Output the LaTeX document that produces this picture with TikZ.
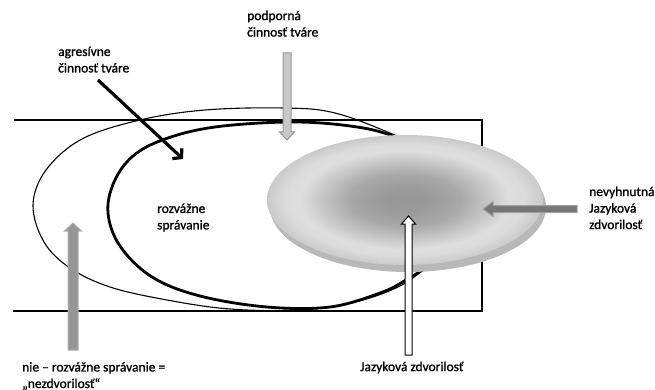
\documentclass[tikz,border=0pt]{standalone}
\usepackage{fontspec}
\setmainfont{Carlito}[FakeBold=1.2]
\usetikzlibrary{arrows.meta}
\pgfdeclareradialshading{discshade}{\pgfpoint{0bp}{0bp}}{%
  rgb(0bp)=(0.59,0.59,0.59);
  rgb(4bp)=(0.60,0.60,0.60);
  rgb(10bp)=(0.66,0.66,0.66);
  rgb(16bp)=(0.80,0.80,0.80);
  rgb(19bp)=(0.87,0.87,0.87);
  rgb(21.5bp)=(0.86,0.86,0.86);
  rgb(25bp)=(0.79,0.79,0.79);
  rgb(50bp)=(0.79,0.79,0.79)}
\definecolor{rimgray}{RGB}{184,184,184}
\definecolor{podfill}{RGB}{200,200,200}
\definecolor{podline}{RGB}{150,150,150}
\definecolor{leftfill}{RGB}{150,150,150}
\definecolor{leftline}{RGB}{175,175,175}
\definecolor{rightfill}{RGB}{118,118,118}
\definecolor{rightline}{RGB}{160,160,160}
\tikzset{
  lbl/.style={anchor=north west, inner sep=0pt, align=left,
    font=\fontsize{13.5}{16.5}\selectfont},
  frame/.style={draw=black, line width=1.1pt},
  thinell/.style={draw=black, line width=1.1pt},
  thickell/.style={draw=black, line width=2.8pt},
  podarrow/.style={draw=podline, fill=podfill, line width=1pt},
  leftarrow/.style={draw=leftline, fill=leftfill, line width=1pt},
  rightarrow/.style={draw=rightline, fill=rightfill, line width=1pt},
  centerarrow/.style={draw=black, fill=white, line width=1pt},
  blackarrow/.style={draw=black, line width=3.2pt,
    -{Straight Barb[length=6pt,width=14pt]}}
}
\begin{document}
\begin{tikzpicture}[x=1pt,y=-1pt]
\useasboundingbox (0,0) rectangle (655,390);

% open frame
\draw[frame] (14,120) -- (482,120) -- (482,311) -- (13,311);

% thin ellipse
\draw[thinell] plot[smooth cycle, tension=0.6] coordinates {
  (33,205) (46,170) (82,139) (140,120) (205,110) (283,108) (335,113)
  (397,136) (462,166) (492,205) (468,240) (434,262) (400,286)
  (355,302) (300,310) (230,309) (167,300) (110,287) (70,268) (44,242)};

% thick ellipse
\draw[thickell] plot[smooth cycle, tension=0.6] coordinates {
  (108,213) (114,182) (133,156) (165,139) (215,127) (290,122) (350,126)
  (393,136) (450,162) (472,200) (458,238) (432,263) (406,280)
  (380,293) (330,307) (267,307) (200,296) (152,277) (120,246)};

% disc
\fill[rimgray] (408,207) ellipse [x radius=138, y radius=65];
\shade[shading=discshade] (405,200) ellipse [x radius=138, y radius=65];

% block arrows
\path[podarrow] (283,53) -- (283,132) -- (279.5,132) -- (287,140)
  -- (294.5,132) -- (291,132) -- (291,53) -- cycle;
\path[leftarrow] (68,350) -- (68,231) -- (64.5,231) -- (73,223)
  -- (81.5,231) -- (78,231) -- (78,350) -- cycle;
\path[centerarrow] (405,355) -- (405,224) -- (401.5,224) -- (408.5,216)
  -- (415.5,224) -- (412,224) -- (412,355) -- cycle;
\path[rightarrow] (577,205.5) -- (493,205.5) -- (493,201.5) -- (483,209)
  -- (493,216.5) -- (493,212.5) -- (577,212.5) -- cycle;

% labels
\node[lbl] (podLbl) at (247,10.5) {podporná\\činnosť tváre};
\node[lbl] (agLbl) at (58,46.5) {agresívne\\činnosť tváre};
\node[lbl] (rozLbl) at (157,203.5) {rozvážne\\správanie};
\node[lbl] (nevLbl) at (589,186.5) {nevyhnutná\\Jazyková\\zdvorilosť};
\node[lbl] (jazLbl) at (360,361.5) {Jazyková zdvorilosť};
\node[lbl] (nieLbl) at (22,362) {nie – rozvážne správanie =\\„nezdvorilosť“};

% black arrow
\coordinate (agStart) at (98,80);
\coordinate (agEnd) at (183,159);
\draw[blackarrow] (agStart) -- (agEnd);
\end{tikzpicture}
\end{document}
